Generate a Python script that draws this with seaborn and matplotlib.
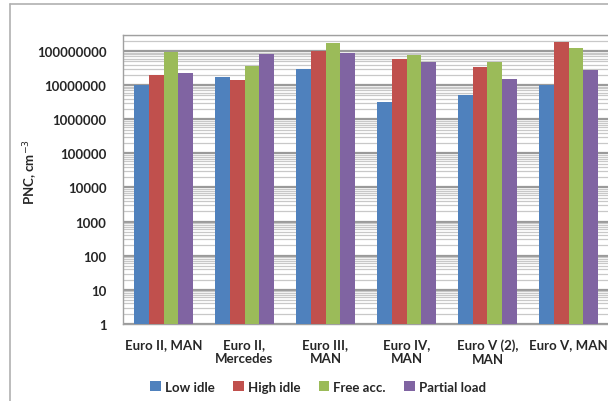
import numpy as np
import pandas as pd
import matplotlib
matplotlib.use("Agg")
import matplotlib.pyplot as plt
import seaborn as sns
from matplotlib.ticker import FixedLocator, LogLocator, NullFormatter
from matplotlib.patches import Patch
from matplotlib.lines import Line2D

categories = ["Euro II, MAN", "Euro II,\nMercedes", "Euro III,\nMAN", "Euro IV,\nMAN",
              "Euro V (2),\nMAN", "Euro V, MAN"]
series = ["Low idle", "High idle", "Free acc.", "Partial load"]
low_idle = [1.0e7, 1.7e7, 3.0e7, 3.2e6, 5.0e6, 1.0e7]
high_idle = [2.0e7, 1.4e7, 1.0e8, 6.0e7, 3.3e7, 1.8e8]
free_acc = [9.5e7, 3.7e7, 1.75e8, 7.7e7, 4.9e7, 1.2e8]
partial_load = [2.3e7, 8.1e7, 8.5e7, 4.9e7, 1.5e7, 2.75e7]
ytick_values = [1, 10, 100, 1000, 10000, 100000, 1000000, 10000000, 100000000]
colors = ["#4F81BD", "#C0504D", "#9BBB59", "#8064A2"]

rows = []
for name, vals in zip(series, [low_idle, high_idle, free_acc, partial_load]):
    for c, v in zip(categories, vals):
        rows.append({"Vehicle": c, "Mode": name, "PNC": v})
df = pd.DataFrame(rows)

sns.set_style("white")
plt.rcParams["font.family"] = ["Lato", "DejaVu Sans"]

W, H = 608, 402
fig = plt.figure(figsize=(W / 100, H / 100), dpi=100)
ax = fig.add_axes([123 / W, (H - 325) / H, (609 - 123) / W, (325 - 35.7) / H])

sns.barplot(data=df, x="Vehicle", y="PNC", hue="Mode", order=categories,
            hue_order=series, palette=colors, width=0.73, saturation=1,
            ax=ax, legend=False, zorder=3, edgecolor="none")
ax.set_yscale("log", nonpositive="clip")

ax.set_ylim(1, 3e8)
ax.set_xlim(-0.5, 5.5)
ax.yaxis.set_major_locator(FixedLocator(ytick_values))
ax.set_yticklabels([str(v) for v in ytick_values])
ax.yaxis.set_minor_locator(LogLocator(base=10, subs=np.arange(2, 10), numticks=20))
ax.yaxis.set_minor_formatter(NullFormatter())
ax.grid(True, which="major", axis="y", color="#9a9a9a", linewidth=1.6, zorder=0)
ax.grid(True, which="minor", axis="y", color="#c8c8c8", linewidth=0.9, zorder=0)
ax.set_axisbelow(True)
ax.tick_params(axis="y", which="both", length=0, pad=12, labelsize=9.5)
ax.tick_params(axis="x", length=0, pad=10, labelsize=9.5)
for lab in ax.get_yticklabels() + ax.get_xticklabels():
    lab.set_fontweight("bold")
ax.set_xlabel("")
ax.set_ylabel("")
for s in ["left", "bottom", "top"]:
    ax.spines[s].set_color("#a0a0a0")
    ax.spines[s].set_linewidth(1.0)
ax.spines["right"].set_visible(False)

fig.text(31 / W, 1 - 172 / H, "PNC, cm$^{-3}$", rotation=90, ha="center", va="center",
         fontsize=9.5, fontweight="bold")

handles = [Patch(facecolor=c, edgecolor="none") for c in colors]
fig.legend(handles, series, loc="center", bbox_to_anchor=(318 / W, 1 - 388 / H), ncol=4,
           frameon=False, handlelength=0.8, handleheight=0.8, handletextpad=0.3,
           columnspacing=1.4, prop={"weight": "bold", "size": 9.5})

# outer chart frame
fig.add_artist(Line2D([10 / W, 1.0], [1 - 5 / H, 1 - 5 / H], transform=fig.transFigure,
                      color="#b0b0b0", linewidth=1.2))
fig.add_artist(Line2D([10 / W, 10 / W], [0, 1 - 5 / H], transform=fig.transFigure,
                      color="#b0b0b0", linewidth=1.2))

fig.savefig("out.png", dpi=100)
